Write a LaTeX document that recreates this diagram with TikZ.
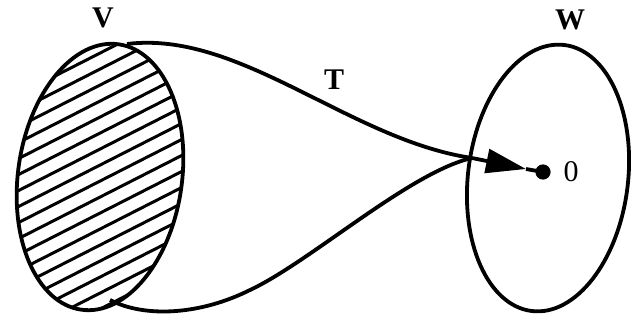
\documentclass[tikz,border=0pt]{standalone}
\usepackage{fontspec}
\setmainfont{Liberation Serif}
\usetikzlibrary{arrows.meta}
\begin{document}
\begin{tikzpicture}[x=0.5pt,y=-0.5pt,line width=1.9pt,
  lbl/.style={font=\fontsize{15}{15}\selectfont\bfseries},
  hatch/.style={line width=1.5pt}]%
% frame of the picture
\useasboundingbox (0,0) rectangle (640,320);
% the two spaces
\coordinate (Vc) at (100,177);
\coordinate (Wc) at (548,178);
\begin{scope}
\clip (Vc) [rotate around={-8:(Vc)}] ellipse (82 and 134);
\foreach \k in {0,...,24}
  \draw[hatch] (0,{40+16*\k}) -- (220,{40+16*\k-112});
\end{scope}
% curves of T
\coordinate (Vtop) at (127,44);
\coordinate (Vbot) at (110,300);
\coordinate (meet) at (472,158);
\draw (Vtop) .. controls (240,30) and (350,140) .. (meet);
\draw (Vbot) .. controls (145,318) and (200,315) .. (250,290)
  .. controls (310,262) and (410,172) .. (meet);
\draw (Vc) [rotate around={-8:(Vc)}] ellipse (82 and 134);
\draw (Wc) [rotate around={-7:(Wc)}] ellipse (80 and 134);
% zero of W
\fill (543,172) circle (3.8pt) coordinate (zero);
\coordinate (tip) at (526,169);
\draw[-{Triangle[length=20pt,width=12pt]}] (meet) -- (tip);
\draw (tip) -- (zero);
\node[font=\fontsize{15}{15}\selectfont] (zlbl) at (571,172) {0};
\node[lbl] (Vlbl) at (103,18) {V};
\node[lbl] (Wlbl) at (570,20) {W};
\node[lbl] (Tlbl) at (334,80) {T};
\end{tikzpicture}
\end{document}
